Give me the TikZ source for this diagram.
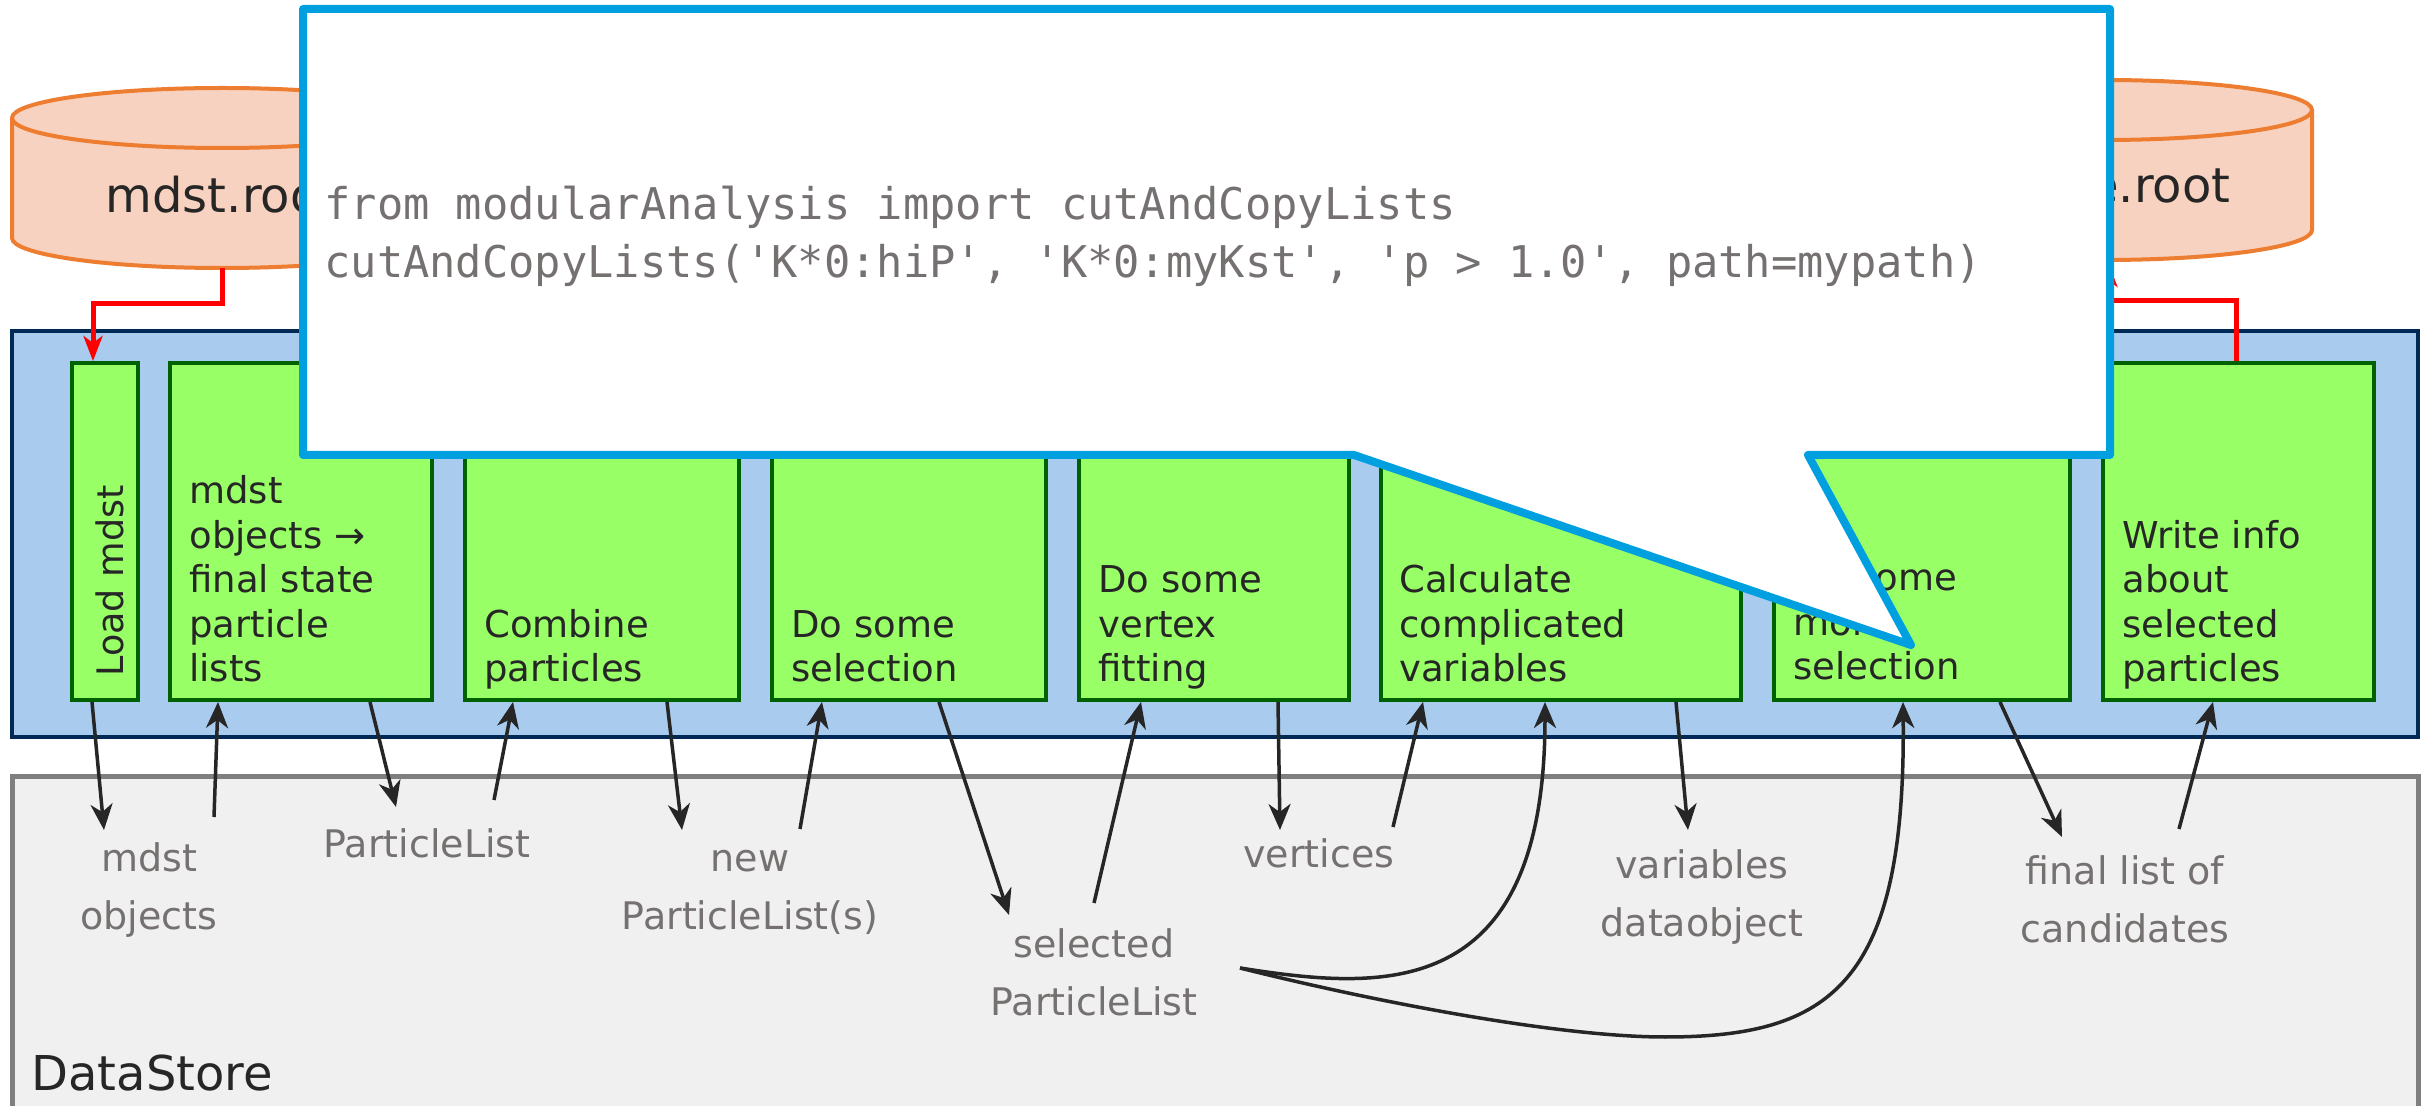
\documentclass[tikz,border=0pt]{standalone}
\usepackage{fontspec}
\setmainfont{DejaVu Sans}
\setmonofont{DejaVu Sans Mono}
\usetikzlibrary{arrows.meta,calc,fit}

\definecolor{modfill}{HTML}{A9CBEE}
\definecolor{modline}{HTML}{002A55}
\definecolor{boxfill}{HTML}{99FF66}
\definecolor{boxline}{HTML}{006100}
\definecolor{storefill}{HTML}{F0F0F0}
\definecolor{storeline}{HTML}{7F7F7F}
\definecolor{ink}{HTML}{262626}
\definecolor{labelgray}{HTML}{767171}
\definecolor{filefill}{HTML}{F8D2C0}
\definecolor{fileline}{HTML}{ED7D31}
\definecolor{calloutblue}{HTML}{00A0E0}

\begin{document}
\begin{tikzpicture}[x=0.5pt, y=-0.5pt,
  panel/.style={inner sep=0pt, line width=2pt},
  gbox/.style={draw=boxline, fill=boxfill, line width=2pt, inner sep=0pt},
  btext/.style={anchor=south west, inner sep=0pt, align=left, text=ink,
    font=\fontsize{18.5pt}{22.25pt}\selectfont},
  lbl/.style={anchor=south, inner sep=0pt, align=center, text=labelgray,
    font=\fontsize{19pt}{29pt}\selectfont},
  arr/.style={draw=ink, line width=1.75pt, line cap=butt,
    -{Stealth[length=13pt,width=11pt,inset=4pt]}},
  redarr/.style={draw=red, line width=2.5pt, line join=miter,
    -{Stealth[length=12.5pt,width=9.5pt,inset=3.5pt]}},
  filebody/.style={fill=filefill, draw=fileline, line width=2pt},
  filetext/.style={anchor=base, inner sep=0pt, text=ink,
    font=\fontsize{24pt}{28pt}\selectfont},
  code/.style={anchor=base west, inner sep=0pt, text=labelgray,
    font=\ttfamily\fontsize{21.85pt}{29pt}\selectfont},
]
\useasboundingbox (0,0) rectangle (2433,1106);
\clip (0,0) rectangle (2433,1106);
\fill[white] (0,0) rectangle (2433,1106);

% DataStore area
\node[panel, draw=storeline, fill=storefill, line width=2.5pt,
      fit={(12,777) (2418,1140)}] (store) {};
\node[anchor=base west, inner sep=0pt, text=ink,
      font=\fontsize{24pt}{28pt}\selectfont] (storename) at (31,1090) {DataStore};

% module path
\node[panel, draw=modline, fill=modfill, fit={(12,331) (2418,737)}] (module) {};

% modules
\node[gbox, fit={(72,363) (138,700)}]   (load) {};
\node[gbox, fit={(170,363) (432,700)}]  (b2) {};
\node[gbox, fit={(465,363) (739,700)}]  (b3) {};
\node[gbox, fit={(772,363) (1046,700)}] (b4) {};
\node[gbox, fit={(1079,363) (1349,700)}] (b5) {};
\node[gbox, fit={(1381,363) (1741,700)}] (b6) {};
\node[gbox, fit={(1774,363) (2070,700)}] (b7) {};
\node[gbox, fit={(2103,363) (2374,700)}] (b8) {};

\node[rotate=90, anchor=base west, inner sep=0pt, text=ink,
      font=\fontsize{18.25pt}{22pt}\selectfont] (tload) at (123,677) {Load mdst};
\node[btext] (t2) at ($(b2.south west)+(21,-12)$) {mdst\\objects →\\final state\\particle\\lists\vphantom{p}};
\node[btext] (t3) at ($(b3.south west)+(21,-12)$) {Combine\\particles\vphantom{p}};
\node[btext] (t4) at ($(b4.south west)+(21,-12)$) {Do some\\selection\vphantom{p}};
\node[btext] (t5) at ($(b5.south west)+(21,-12)$) {Do some\\vertex\\fitting\vphantom{p}};
\node[btext] (t6) at ($(b6.south west)+(20,-12)$) {Calculate\\complicated\\variables\vphantom{p}};
\node[btext] (t7) at ($(b7.south west)+(21,-14)$) {Do some\\more\\selection\vphantom{p}};
\node[btext] (t8) at ($(b8.south west)+(21,-12)$) {Write info\\about\\selected\\particles\vphantom{p}};

% data objects
\node[lbl] (dmdst)  at (149,938)  {mdst\\objects\vphantom{p}};
\node[lbl] (dpl)    at (427,866)  {ParticleList\vphantom{p}};
\node[lbl] (dnew)   at (750,938)  {new\\ParticleList(s)\vphantom{p}};
\node[lbl] (dsel)   at (1094,1024) {selected\\ParticleList\vphantom{p}};
\node[lbl] (dvtx)   at (1319,876) {vertices\vphantom{p}};
\node[lbl] (dvar)   at (1702,945) {variables\\dataobject\vphantom{p}};
\node[lbl] (dfinal) at (2125,951) {final list of\\candidates\vphantom{p}};

% connector ends in the data store
\coordinate (e1)  at (104,830);
\coordinate (s2)  at (214,817);
\coordinate (e3)  at (396,807);
\coordinate (s4)  at (494,800);
\coordinate (e5)  at (682,830);
\coordinate (s6)  at (800,829);
\coordinate (e7)  at (1009,915);
\coordinate (s8)  at (1094,903);
\coordinate (e9)  at (1280,830);
\coordinate (s10) at (1393,827);
\coordinate (selout) at (1240,968);
\coordinate (e12) at (1688,830);
\coordinate (e14) at (2062,837);
\coordinate (s15) at (2179,829);

\draw[arr] ($(load.south west)+(22,0)$) -- (e1);
\draw[arr] (s2) -- ($(b2.south west)+(50,0)$);
\draw[arr] ($(b2.south west)+(202,0)$) -- (e3);
\draw[arr] (s4) -- ($(b3.south west)+(50,0)$);
\draw[arr] ($(b3.south west)+(204,0)$) -- (e5);
\draw[arr] (s6) -- ($(b4.south west)+(52,0)$);
\draw[arr] ($(b4.south west)+(169,0)$) -- (e7);
\draw[arr] (s8) -- ($(b5.south west)+(64,0)$);
\draw[arr] ($(b5.south west)+(201,0)$) -- (e9);
\draw[arr] (s10) -- ($(b6.south west)+(44,0)$);
\draw[arr] (selout) .. controls (1380,990) and (1545,1005) .. ($(b6.south west)+(166,0)$);
\draw[arr] ($(b6.south west)+(297,0)$) -- (e12);
\draw[arr] (selout) .. controls (1380,1003) and (1560,1037) .. (1665,1037)
                    .. controls (1830,1037) and (1906,985) .. ($(b7.south west)+(131,0)$);
\draw[arr] ($(b7.south west)+(228,0)$) -- (e14);
\draw[arr] (s15) -- ($(b8.south west)+(112,0)$);

% input and output files
\filldraw[filebody] (12,118) -- (12,238)
  arc[start angle=180, end angle=0, x radius=210, y radius=30] -- (432,118)
  arc[start angle=0, end angle=-180, x radius=210, y radius=30] -- cycle;
\draw[filebody, fill=none] (12,118) arc[start angle=180, end angle=0, x radius=210, y radius=30];
\coordinate (cylLbot) at (222,268);
\node[filetext] (fileL) at (222,213) {mdst.root};

\filldraw[filebody] (1896,110) -- (1896,230)
  arc[start angle=180, end angle=0, x radius=208, y radius=30] -- (2312,110)
  arc[start angle=0, end angle=-180, x radius=208, y radius=30] -- cycle;
\draw[filebody, fill=none] (1896,110) arc[start angle=180, end angle=0, x radius=208, y radius=30];
\coordinate (cylRbot) at (2108,262);
\node[filetext] (fileR) at (2098,203) {ntuple.root};

\draw[redarr] (cylLbot) -- ++(0,36) -| ($(load.north west)+(23,0)$);
\draw[redarr] ($(b8.north west)+(135,0)$) -- ++(0,-60) -| (cylRbot);

% code callout
\draw[draw=calloutblue, fill=white, line width=4pt, line join=round]
  (303,9) -- (2110,9) -- (2110,455) -- (1808,455) -- (1911,645)
  -- (1354,455) -- (303,455) -- cycle;
\node[code] (code1) at (324,220) {from modularAnalysis import cutAndCopyLists};
\node[code] (code2) at (324,278) {cutAndCopyLists('K*0:hiP', 'K*0:myKst', 'p > 1.0', path=mypath)};
\end{tikzpicture}
\end{document}
